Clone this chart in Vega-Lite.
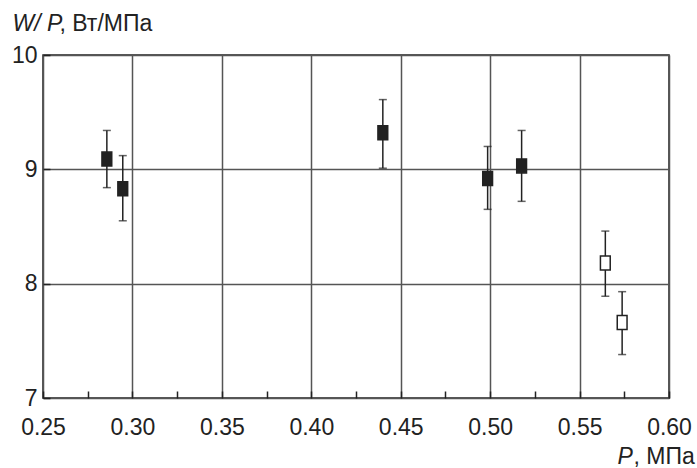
{
  "$schema": "https://vega.github.io/schema/vega-lite/v6.json",
  "autosize": {"type": "none"},
  "width": 626,
  "height": 343,
  "padding": {"left": 43, "top": 55, "right": 28, "bottom": 70},
  "background": "white",
  "config": {
    "view": {"stroke": "#222", "strokeWidth": 1.5},
    "font": "Liberation Sans",
    "axis": {
      "labelFont": "Liberation Sans",
      "titleFont": "Liberation Sans",
      "labelFontSize": 23,
      "titleFontSize": 23,
      "labelColor": "#222",
      "titleColor": "#222",
      "titleFontWeight": "normal",
      "domain": false
    }
  },
  "data": {
    "values": [
      {"p": 0.2857, "v": 9.09, "lo": 8.84, "hi": 9.34, "type": "filled"},
      {"p": 0.2946, "v": 8.83, "lo": 8.55, "hi": 9.12, "type": "filled"},
      {"p": 0.4400, "v": 9.32, "lo": 9.01, "hi": 9.61, "type": "filled"},
      {"p": 0.4986, "v": 8.92, "lo": 8.65, "hi": 9.20, "type": "filled"},
      {"p": 0.5176, "v": 9.03, "lo": 8.72, "hi": 9.34, "type": "filled"},
      {"p": 0.5644, "v": 8.18, "lo": 7.89, "hi": 8.46, "type": "open"},
      {"p": 0.5738, "v": 7.66, "lo": 7.38, "hi": 7.93, "type": "open"}
    ]
  },
  "resolve": {"axis": {"x": "independent", "y": "independent"}},
  "layer": [
    {
      "mark": {"type": "rule", "color": "#222", "strokeWidth": 1.5},
      "encoding": {
        "x": {
          "field": "p", "type": "quantitative",
          "scale": {"domain": [0.25, 0.6], "nice": false, "zero": false},
          "axis": {
            "values": [0.25, 0.275, 0.3, 0.325, 0.35, 0.375, 0.4, 0.425, 0.45, 0.475, 0.5, 0.525, 0.55, 0.575, 0.6],
            "format": ".2f",
            "labelExpr": "round(datum.value*1000) % 50 === 0 ? datum.label : ''",
            "grid": true,
            "gridColor": "#555",
            "gridWidth": 1.5,
            "gridOpacity": {"condition": {"test": "round(datum.value*1000) % 50 !== 0", "value": 0}, "value": 1},
            "tickSize": -7,
            "tickColor": "#222",
            "tickWidth": 1.5,
            "labelPadding": 25,
            "labelFlush": false,
            "title": ", МПа",
            "titleAlign": "left",
            "titleBaseline": "alphabetic",
            "titleX": 590,
            "titleY": 65
          }
        },
        "y": {
          "field": "lo", "type": "quantitative",
          "scale": {"domain": [7, 10], "nice": false, "zero": false},
          "axis": {
            "values": [7, 7.5, 8, 8.5, 9, 9.5, 10],
            "format": "d",
            "labelExpr": "datum.value % 1 === 0 ? datum.label : ''",
            "grid": true,
            "gridColor": "#555",
            "gridWidth": 1.5,
            "gridOpacity": {"condition": {"test": "datum.value % 1 !== 0", "value": 0}, "value": 1},
            "tickSize": -7,
            "tickColor": "#222",
            "tickWidth": 1.5,
            "labelPadding": 13,
            "labelFlush": false,
            "title": ", Вт/МПа",
            "titleAngle": 0,
            "titleAlign": "left",
            "titleBaseline": "alphabetic",
            "titleX": 16,
            "titleY": -25
          }
        },
        "y2": {"field": "hi"}
      }
    },
    {
      "mark": {"type": "tick", "orient": "horizontal", "color": "#222", "size": 8, "thickness": 1.5},
      "encoding": {
        "x": {"field": "p", "type": "quantitative", "axis": {"title": "P", "titleFontStyle": "italic", "labels": false, "ticks": false, "grid": false, "orient": "bottom", "titleAlign": "left", "titleBaseline": "alphabetic", "titleX": 574, "titleY": 65}},
        "y": {"field": "lo", "type": "quantitative", "axis": {"title": "W/ P", "titleFontStyle": "italic", "labels": false, "ticks": false, "grid": false, "orient": "left", "titleAngle": 0, "titleAlign": "left", "titleBaseline": "alphabetic", "titleX": -31, "titleY": -25}}
      }
    },
    {
      "mark": {"type": "tick", "orient": "horizontal", "color": "#222", "size": 8, "thickness": 1.5},
      "encoding": {
        "x": {"field": "p", "type": "quantitative", "axis": null},
        "y": {"field": "hi", "type": "quantitative", "axis": null}
      }
    },
    {
      "mark": {"type": "point", "shape": "M-0.7,-1L0.7,-1L0.7,1L-0.7,1Z", "size": 196, "filled": false, "strokeWidth": 1.5, "opacity": 1},
      "encoding": {
        "x": {"field": "p", "type": "quantitative", "axis": null},
        "y": {"field": "v", "type": "quantitative", "axis": null},
        "fill": {"field": "type", "type": "nominal", "scale": {"domain": ["filled", "open"], "range": ["#222", "white"]}, "legend": null},
        "stroke": {"value": "#222"}
      }
    }
  ]
}
